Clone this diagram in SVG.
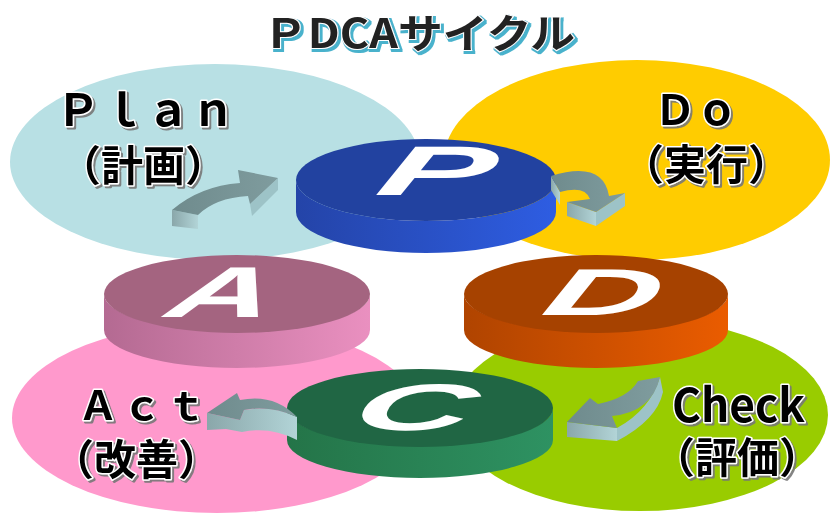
<svg xmlns="http://www.w3.org/2000/svg" width="830" height="513" viewBox="0 0 830 513">
<defs>
  <style>
    .lbl{font-family:"Noto Sans CJK JP","Liberation Sans",sans-serif;font-weight:bold;fill:#000;stroke:#fff;stroke-width:3;paint-order:stroke;stroke-linejoin:round;filter:url(#sh)}
    .ttl{font-family:"Noto Sans CJK JP","Liberation Sans",sans-serif;font-weight:bold;font-size:40px}
    .disc-letter{font-family:"Liberation Sans",Arial,sans-serif;font-weight:bold;font-style:italic;fill:#fff;font-size:100px;text-anchor:middle}
    .atop{fill:url(#gArrowTop)}
    .aside{fill:#9dc3c7}
    .aface{fill:url(#gArrowFace)}
  </style>
  <filter id="sh" x="-10%" y="-10%" width="130%" height="140%">
    <feDropShadow dx="2" dy="2" stdDeviation="0.6" flood-color="#777" flood-opacity="0.9"/>
  </filter>
  <filter id="tsh" x="-5%" y="-20%" width="115%" height="150%">
    <feMorphology in="SourceAlpha" operator="dilate" radius="1" result="d"/>
    <feOffset in="d" dx="2" dy="2" result="o"/>
    <feFlood flood-color="#4ab2cc"/>
    <feComposite in2="o" operator="in" result="b"/>
    <feMerge><feMergeNode in="b"/><feMergeNode in="SourceGraphic"/></feMerge>
  </filter>
  <linearGradient id="gP" x1="0" x2="1"><stop offset="0" stop-color="#2444a8"/><stop offset="1" stop-color="#2e5de2"/></linearGradient>
  <linearGradient id="gD" x1="0" x2="1"><stop offset="0" stop-color="#b04400"/><stop offset="1" stop-color="#ea5c00"/></linearGradient>
  <linearGradient id="gA" x1="0" x2="1"><stop offset="0" stop-color="#b46a92"/><stop offset="1" stop-color="#ea90c0"/></linearGradient>
  <linearGradient id="gC" x1="0" x2="1"><stop offset="0" stop-color="#247448"/><stop offset="1" stop-color="#2e9262"/></linearGradient>
  <linearGradient id="gArrowTop" x1="0" x2="1" y1="0" y2="0"><stop offset="0" stop-color="#6f8b8d"/><stop offset="1" stop-color="#7f9c9e"/></linearGradient>
  <linearGradient id="gArrowFace" x1="0" x2="1"><stop offset="0" stop-color="#8aa7aa"/><stop offset="1" stop-color="#b2d4d7"/></linearGradient>
</defs>

<g id="title">
  <text class="ttl" x="419" y="48" text-anchor="middle" fill="#222" stroke="#fff" stroke-width="2" paint-order="stroke" filter="url(#tsh)" textLength="312" lengthAdjust="spacingAndGlyphs">ＰDCAサイクル</text>
</g>

<g id="plan-area"><ellipse cx="215" cy="162" rx="205" ry="98" fill="#b8e0e4"/></g>
<g id="do-area"><ellipse cx="637" cy="160" rx="193" ry="100" fill="#ffcc00"/></g>
<g id="act-area"><ellipse cx="217" cy="418" rx="205" ry="95" fill="#ff99cc"/></g>
<g id="check-area"><ellipse cx="640" cy="415" rx="188" ry="96" fill="#99cc00"/></g>

<g id="plan-label">
  <text class="lbl" x="56" y="126" font-size="44" letter-spacing="1">Ｐｌａｎ</text>
  <text class="lbl" x="143" y="181" font-size="42" text-anchor="middle">（計画）</text>
</g>
<g id="do-label">
  <text class="lbl" x="654" y="125" font-size="42">Ｄｏ</text>
  <text class="lbl" x="706" y="180" font-size="42" text-anchor="middle">（実行）</text>
</g>
<g id="act-label">
  <text class="lbl" x="78" y="420" font-size="40" letter-spacing="4">Ａｃｔ</text>
  <text class="lbl" x="136" y="475" font-size="42" text-anchor="middle">（改善）</text>
</g>
<g id="check-label">
  <text class="lbl" x="672" y="422" font-size="46" textLength="133" lengthAdjust="spacingAndGlyphs">Check</text>
  <text class="lbl" x="737" y="473" font-size="42" text-anchor="middle">（評価）</text>
</g>

<g id="disc-P">
  <path d="M296,180 L296,212 A130,41 0 0 0 556,212 L556,180 A130,41 0 0 1 296,180 Z" fill="url(#gP)"/>
  <ellipse cx="426" cy="180" rx="130" ry="41" fill="#2242a0"/>
  <text class="disc-letter" transform="translate(430,195) scale(1.7,0.7) skewX(-8)">P</text>
</g>
<g id="disc-A">
  <path d="M104,294 L104,330 A133,38 0 0 0 370,330 L370,294 A133,38 0 0 1 104,294 Z" fill="url(#gA)"/>
  <ellipse cx="237" cy="294" rx="133" ry="39" fill="#a46480"/>
  <text class="disc-letter" transform="translate(216,317) scale(1.45,0.72) skewX(-8)">A</text>
</g>
<g id="disc-D">
  <path d="M464,294 L464,330 A132,38 0 0 0 728,330 L728,294 A132,38 0 0 1 464,294 Z" fill="url(#gD)"/>
  <ellipse cx="596" cy="294" rx="132" ry="39" fill="#a64200"/>
  <text class="disc-letter" transform="translate(597,315) scale(1.6,0.66) skewX(-8)">D</text>
</g>
<g id="disc-C">
  <path d="M287,408 L287,440 A133,38 0 0 0 553,440 L553,408 A133,38 0 0 1 287,408 Z" fill="url(#gC)"/>
  <ellipse cx="420" cy="408" rx="133" ry="39" fill="#206644"/>
  <text class="disc-letter" transform="translate(408,430) scale(1.65,0.66) skewX(-8)">C</text>
</g>

<g id="connectors">
  <g id="arrow-plan-do">
    <path class="aface" d="M172,210 L198,215 L198,229 L172,226 Z"/>
    <path class="aside" d="M278,178 L278,190 L252,216 L250,204 Z"/>
    <path class="atop" d="M172,210 Q200,186 240,183 L238,170 L278,178 L250,204 L248,196 Q215,198 198,215 Z"/>
  </g>
  <g id="arrow-do-check">
    <path class="aface" d="M567,202 L596,212 L596,226 L567,216 Z"/>
    <path class="aside" d="M596,212 L625,193 L625,206 L596,226 Z"/>
    <path class="aface" d="M551,176 L560,192 L560,205 L551,190 Z"/>
    <path class="atop" d="M551,176 Q603,160 609,196 L625,193 L596,212 L567,202 L590,199 Q585,185 560,192 Z"/>
  </g>
  <g id="arrow-check-act">
    <path class="aface" d="M567,422 L567,437 L617,441 L617,428 Z"/>
    <path class="aside" d="M660,377 L663,392 Q657,420 617,441 L617,428 Q650,410 660,377 Z"/>
    <path class="atop" d="M638,381 L660,377 Q652,412 612,416 L617,428 L567,422 L590,398 L598,404 Q628,398 638,381 Z"/>
  </g>
  <g id="arrow-act-plan">
    <path class="aface" d="M207,413 L240,420 L244,410 Q272,405 297,417 L297,440 Q270,426 242,432 L226,429 L207,430 Z"/>
    <path class="atop" d="M207,413 L237,393 L240,400 Q274,393 297,417 Q270,405 244,410 L240,420 Z"/>
  </g>
</g>
</svg>
